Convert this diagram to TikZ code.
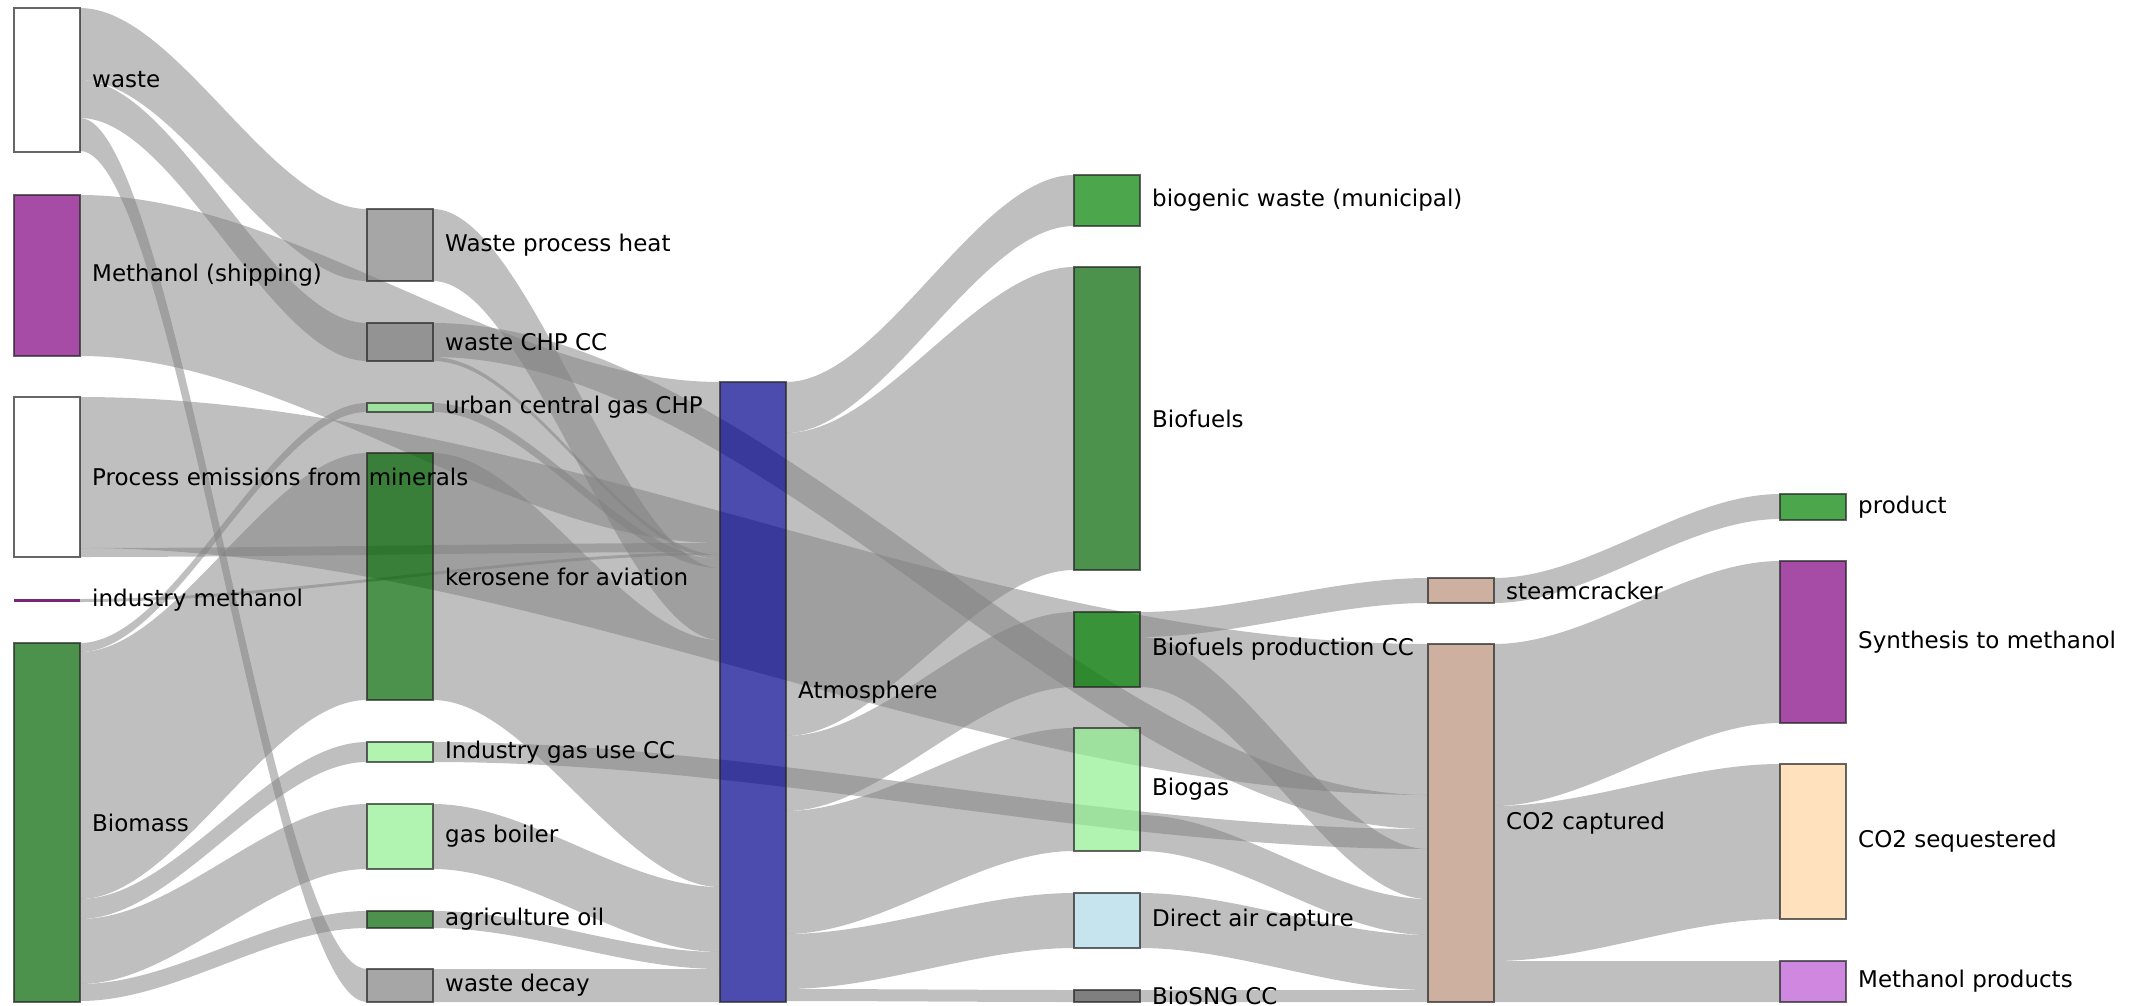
\documentclass[tikz,border=0pt]{standalone}
\usepackage{fontspec}
\setmainfont{DejaVu Sans}
\usetikzlibrary{calc,positioning}

\definecolor{biogreen}{RGB}{0,100,0}
\definecolor{brightgreen}{RGB}{0,128,0}
\definecolor{lgreen}{RGB}{144,238,144}
\definecolor{atmblue}{RGB}{0,0,139}
\definecolor{methpurple}{RGB}{128,0,128}
\definecolor{methlight}{RGB}{186,85,211}
\definecolor{wastegray}{RGB}{128,128,128}
\definecolor{sngray}{RGB}{72,72,72}
\definecolor{dacblue}{RGB}{173,216,230}
\definecolor{co2tan}{RGB}{185,142,119}
\definecolor{seqbisque}{RGB}{255,212,162}

\tikzset{
  box/.style={draw=black!85, line width=1.2pt, minimum width=66pt, opacity=0.7,
              inner sep=0pt, outer sep=0pt, anchor=north west},
  band/.style={fill=black!50, fill opacity=0.5},
  lbl/.style={font=\fontsize{23}{27}\selectfont, inner sep=0pt, anchor=west}
}

% band: source, offset on source, width, target, offset on target
\newcommand{\sflow}[5]{%
  \path (#1.north east) ++(0,#2) coordinate (f-a);
  \path (#4.north west) ++(0,#5) coordinate (f-c);
  \fill[band] let \p1=(f-a), \p2=(f-c), \n1={(\x2-\x1)/3} in
    (f-a) .. controls +(\n1,0) and +(-\n1,0) .. (f-c)
    -- ++(0,#3) .. controls +(-\n1,0) and +(\n1,0) .. ([yshift=-#3pt]f-a) -- cycle;
}

\begin{document}
\begin{tikzpicture}[x=1pt, y=-1pt]
  \def\xA{14}
  \def\xB{367}
  \def\xC{720}
  \def\xD{1074}
  \def\xE{1428}
  \def\xF{1780}

  % Fixed bounding box (pixel grid of the figure)
  \useasboundingbox (0,0) rectangle (2144,1006);

  % ---- Anchor points for the bands (boxes are redrawn on top below) ----
  \begin{scope}[box/.append style={draw=none, fill=none}]
    \path node[box, minimum height=144pt] (waste) at (\xA,8) {}
          node[box, minimum height=161pt] (shipmeth) at (\xA,195) {}
          node[box, minimum height=160pt] (procem) at (\xA,397) {}
          node[box, minimum height=3pt] (indmeth) at (\xA,599) {}
          node[box, minimum height=359pt] (biomass) at (\xA,643) {}
          node[box, minimum height=72pt] (wph) at (\xB,209) {}
          node[box, minimum height=38pt] (wchp) at (\xB,323) {}
          node[box, minimum height=9pt] (ucgchp) at (\xB,403) {}
          node[box, minimum height=247pt] (kero) at (\xB,453) {}
          node[box, minimum height=20pt] (igu) at (\xB,742) {}
          node[box, minimum height=65pt] (gasboil) at (\xB,804) {}
          node[box, minimum height=17pt] (agrioil) at (\xB,911) {}
          node[box, minimum height=33pt] (wdecay) at (\xB,969) {}
          node[box, minimum height=620pt] (atm) at (\xC,382) {}
          node[box, minimum height=51pt] (biowaste) at (\xD,175) {}
          node[box, minimum height=303pt] (biofuels) at (\xD,267) {}
          node[box, minimum height=75pt] (bpcc) at (\xD,612) {}
          node[box, minimum height=123pt] (biogas) at (\xD,728) {}
          node[box, minimum height=55pt] (dac) at (\xD,893) {}
          node[box, minimum height=12pt] (biosng) at (\xD,990) {}
          node[box, minimum height=25pt] (steamcr) at (\xE,578) {}
          node[box, minimum height=358pt] (co2cap) at (\xE,644) {}
          node[box, minimum height=26pt] (product) at (\xF,494) {}
          node[box, minimum height=162pt] (synmeth) at (\xF,561) {}
          node[box, minimum height=155pt] (co2seq) at (\xF,764) {}
          node[box, minimum height=41pt] (methprod) at (\xF,961) {};
  \end{scope}

  % ======== BANDS ========
  \sflow{waste}{0}{72}{wph}{0}
  \sflow{waste}{72}{38}{wchp}{0}
  \sflow{waste}{110}{33}{wdecay}{0}
  \sflow{shipmeth}{0}{161}{atm}{0}
  \sflow{procem}{0}{151}{co2cap}{0}
  \sflow{procem}{151}{9}{atm}{161}
  \sflow{indmeth}{0}{3}{atm}{170}
  \sflow{biomass}{0}{9}{ucgchp}{0}
  \sflow{biomass}{9}{247}{kero}{0}
  \sflow{biomass}{256}{20}{igu}{0}
  \sflow{biomass}{276}{65}{gasboil}{0}
  \sflow{biomass}{341}{17}{agrioil}{0}

  \sflow{wph}{0}{72}{atm}{186}
  \sflow{wchp}{0}{34}{co2cap}{151}
  \sflow{wchp}{34}{4}{atm}{173}
  \sflow{ucgchp}{0}{9}{atm}{177}
  \sflow{kero}{0}{247}{atm}{258}
  \sflow{igu}{0}{20}{co2cap}{185}
  \sflow{gasboil}{0}{65}{atm}{505}
  \sflow{agrioil}{0}{17}{atm}{570}
  \sflow{wdecay}{0}{33}{atm}{587}

  \sflow{atm}{0}{51}{biowaste}{0}
  \sflow{atm}{51}{303}{biofuels}{0}
  \sflow{atm}{354}{75}{bpcc}{0}
  \sflow{atm}{429}{123}{biogas}{0}
  \sflow{atm}{552}{55}{dac}{0}
  \sflow{atm}{607}{12}{biosng}{0}

  \sflow{bpcc}{0}{25}{steamcr}{0}
  \sflow{bpcc}{25}{50}{co2cap}{205}
  \sflow{biogas}{87}{36}{co2cap}{255}
  \sflow{dac}{0}{55}{co2cap}{291}
  \sflow{biosng}{0}{12}{co2cap}{346}

  \sflow{steamcr}{0}{25}{product}{0}
  \sflow{co2cap}{0}{162}{synmeth}{0}
  \sflow{co2cap}{162}{155}{co2seq}{0}
  \sflow{co2cap}{317}{41}{methprod}{0}

  % ---- Boxes, semi-transparent over the bands ----
  \foreach \n/\c in {waste/white, shipmeth/methpurple, procem/white,
      biomass/biogreen, wph/wastegray, wchp/wastegray,
      ucgchp/lgreen, kero/biogreen, igu/lgreen, gasboil/lgreen,
      agrioil/biogreen, wdecay/wastegray, atm/atmblue, biowaste/brightgreen,
      biofuels/biogreen, bpcc/brightgreen, biogas/lgreen, dac/dacblue,
      biosng/sngray, steamcr/co2tan, co2cap/co2tan, product/brightgreen,
      synmeth/methpurple, co2seq/seqbisque, methprod/methlight}
    \draw[draw=black!85, line width=1.2pt, fill=\c, opacity=0.7]
      (\n.north west) rectangle (\n.south east);
  % thin box: drawn as a bar
  \draw[line width=3.5pt, methpurple!75!black, opacity=0.85]
    (indmeth.west) -- (indmeth.east);

  % ---- Labels ----
  \foreach \n/\t in {waste/waste, shipmeth/{Methanol (shipping)},
      procem/{Process emissions from minerals}, indmeth/{industry methanol},
      biomass/Biomass, wph/{Waste process heat}, wchp/{waste CHP CC},
      ucgchp/{urban central gas CHP}, kero/{kerosene for aviation},
      igu/{Industry gas use CC}, gasboil/{gas boiler}, agrioil/{agriculture oil},
      wdecay/{waste decay}, atm/Atmosphere, biowaste/{biogenic waste (municipal)},
      biofuels/Biofuels, bpcc/{Biofuels production CC}, biogas/Biogas,
      dac/{Direct air capture}, biosng/{BioSNG CC}, steamcr/steamcracker,
      co2cap/{CO2 captured}, product/product, synmeth/{Synthesis to methanol},
      co2seq/{CO2 sequestered}, methprod/{Methanol products}}
    \node[lbl, right=12pt of \n] {\t};

\end{tikzpicture}
\end{document}
